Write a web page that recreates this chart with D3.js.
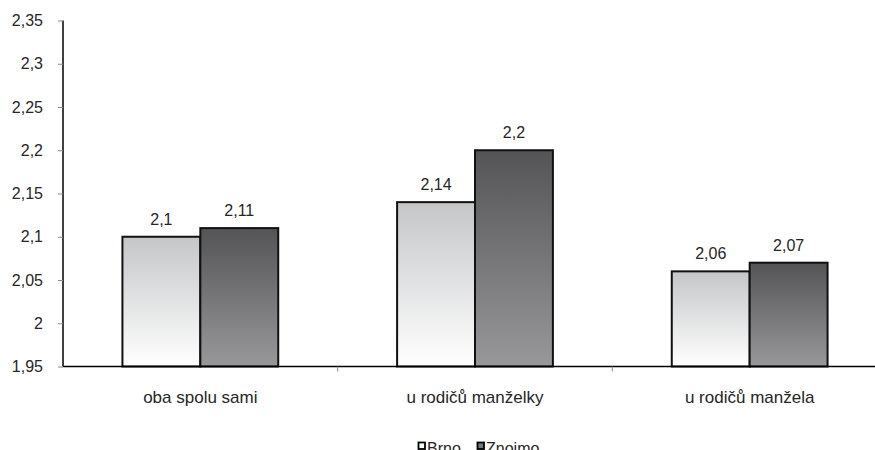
<!DOCTYPE html>
<html><head><meta charset="utf-8">
<script src="https://cdn.jsdelivr.net/npm/d3@7"></script>
<style>
html,body{margin:0;padding:0;background:#fff;}
svg{display:block;font-family:"Liberation Sans",Arial,sans-serif;}
</style></head>
<body><svg id="c" width="875" height="450"></svg>
<script>
const categories = ["oba spolu sami", "u rodičů manželky", "u rodičů manžela"];
const seriesNames = ["Brno", "Znojmo"];
const brno = [2.1, 2.14, 2.06];
const znojmo = [2.11, 2.2, 2.07];
const yTicks = [1.95, 2, 2.05, 2.1, 2.15, 2.2, 2.25, 2.3, 2.35];

const values = [brno, znojmo];
const fmt = v => String(v).replace(".", ",");
const svg = d3.select("#c");
const textColor = "#262626";

const defs = svg.append("defs");
const grads = [["gBrno", "#c5c6c8", "#ffffff"], ["gZnojmo", "#545456", "#98989b"]];
grads.forEach(([id, c1, c2]) => {
  const g = defs.append("linearGradient").attr("id", id).attr("x1", 0).attr("y1", 0).attr("x2", 0).attr("y2", 1);
  g.append("stop").attr("offset", "0%").attr("stop-color", c1);
  g.append("stop").attr("offset", "100%").attr("stop-color", c2);
});

const y = d3.scaleLinear().domain([1.95, 2.35]).range([366.5, 20.5]);
const x0 = d3.scaleBand().domain(categories).range([63, 887]).padding(0);
const x1 = d3.scaleBand().domain(seriesNames).range([0, x0.bandwidth()]).paddingInner(0).paddingOuter(0.763);

// bars
const groups = svg.append("g").selectAll("g").data(categories).join("g")
  .attr("transform", d => `translate(${x0(d)},0)`);
groups.selectAll("rect").data((c, i) => seriesNames.map((s, k) => ({s, k, v: values[k][i]})))
  .join("rect")
  .attr("x", d => x1(d.s))
  .attr("y", d => y(d.v))
  .attr("width", x1.bandwidth())
  .attr("height", d => y(1.95) - y(d.v))
  .attr("fill", d => `url(#${grads[d.k][0]})`)
  .attr("stroke", "#111")
  .attr("stroke-width", 2);
groups.selectAll("text").data((c, i) => seriesNames.map((s, k) => ({s, k, v: values[k][i]})))
  .join("text")
  .attr("x", d => x1(d.s) + x1.bandwidth() / 2)
  .attr("y", d => y(d.v) - 12)
  .attr("text-anchor", "middle")
  .attr("font-size", 16)
  .attr("fill", textColor)
  .text(d => fmt(d.v));

// y axis
const yAxis = svg.append("g").attr("transform", "translate(63,0)")
  .call(d3.axisLeft(y).tickValues(yTicks).tickSize(5).tickPadding(15).tickFormat(fmt));
yAxis.select(".domain").attr("stroke", "#000").attr("stroke-width", 1.5).attr("d", `M0,${y(2.35)}V${y(1.95)}`);
yAxis.selectAll(".tick line").attr("stroke", "#888");
yAxis.selectAll(".tick text").attr("font-size", 16).attr("fill", textColor).attr("font-family", "Liberation Sans, Arial, sans-serif");

// x axis
const xAxis = svg.append("g").attr("transform", `translate(0,${y(1.95)})`)
  .call(d3.axisBottom(x0).tickSize(0).tickPadding(24));
xAxis.select(".domain").attr("stroke", "#000").attr("stroke-width", 1.5).attr("d", "M63,0H875");
xAxis.selectAll(".tick text").attr("font-size", 17).attr("fill", textColor).attr("font-family", "Liberation Sans, Arial, sans-serif").attr("dy", "0.71em");
// category separators
svg.append("g").selectAll("line").data(categories.slice(1)).join("line")
  .attr("x1", d => x0(d)).attr("x2", d => x0(d))
  .attr("y1", y(1.95)).attr("y2", y(1.95) + 5)
  .attr("stroke", "#888");

// legend
const legendPos = [418, 477];
const leg = svg.append("g").selectAll("g").data(seriesNames).join("g")
  .attr("transform", (d, i) => `translate(${legendPos[i]},442)`);
leg.append("rect").attr("x", 0.5).attr("y", 0.5).attr("width", 6.5).attr("height", 6.5)
  .attr("fill", (d, i) => i === 0 ? "#fff" : "#777").attr("stroke", "#000").attr("stroke-width", 1.8);
leg.append("text").attr("x", 9).attr("y", 12).attr("font-size", 16).attr("fill", textColor).text(d => d);
</script></body></html>
